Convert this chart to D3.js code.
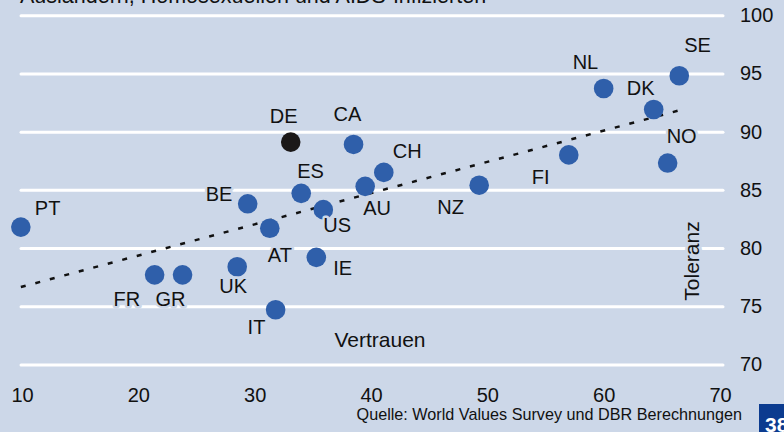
<!doctype html>
<html>

<head>
    <meta charset="UTF-8">
    <title>Vertrauen und Toleranz</title>
    <script src="https://cdn.jsdelivr.net/npm/d3@7"></script>
    <style>
        body { margin: 0; background: #ccd7e8; }
        svg { display: block; font-family: "Liberation Sans", Arial, sans-serif; }
    </style>
</head>

<body>
    <script>
        // Länder, Vertrauen (x) und Toleranz (y)
        var countries = ["PT", "FR", "GR", "UK", "BE", "AT", "IT", "DE", "ES", "IE", "US", "CA", "AU", "CH", "NZ", "FI", "NL", "DK", "NO", "SE"];
        var trust = [9.9, 21.4, 23.8, 28.5, 29.4, 31.3, 31.8, 33.1, 34.0, 35.3, 35.9, 38.5, 39.5, 41.1, 49.3, 57.0, 60.0, 64.3, 65.5, 66.5];
        var tolerance = [81.8, 77.7, 77.7, 78.4, 83.8, 81.7, 74.7, 89.1, 84.7, 79.2, 83.3, 88.9, 85.3, 86.5, 85.4, 88.0, 93.7, 91.9, 87.3, 94.8];
        var highlight = "DE";

        // Trendlinie (Anfang und Ende)
        var trendX = [9.9, 66.4];
        var trendY = [76.65, 91.8];

        var xTicks = [10, 20, 30, 40, 50, 60, 70];
        var yTicks = [70, 75, 80, 85, 90, 95, 100];

        // Beschriftungs-Versatz relativ zum Punkt
        var labelOffset = {
            PT: [14, -12], FR: [-41, 31], GR: [-27, 31], UK: [-18, 26], BE: [-42, -3],
            AT: [-2, 34], IT: [-28, 24], DE: [-21, -19], ES: [-4, -15], IE: [17, 18],
            US: [0, 22], CA: [-20, -23], AU: [-2, 29], CH: [9, -14], NZ: [-42, 29],
            FI: [-37, 29], NL: [-31, -20], DK: [-27, -15], NO: [-1, -20], SE: [5, -24]
        };

        var w = 784, h = 432;
        var bg = "#ccd7e8";

        var svg = d3.select("body").append("svg")
            .attr("width", w)
            .attr("height", h);

        svg.append("rect").attr("width", w).attr("height", h).attr("fill", bg);

        var x = d3.scaleLinear().domain([10, 70]).range([22, 720]);
        var y = d3.scaleLinear().domain([70, 100]).range([364.5, 15.2]);

        // Titel (oben abgeschnitten)
        svg.append("text")
            .attr("x", 20).attr("y", 2.5)
            .attr("font-size", 21.5)
            .attr("fill", "#111")
            .text("Ausländern, Homosexuellen und AIDS-Infizierten");

        // y-Achse rechts mit Gitterlinien
        var yAxis = svg.append("g")
            .attr("transform", "translate(723,0)")
            .call(d3.axisRight(y).tickValues(yTicks).tickSize(-702).tickPadding(17));
        yAxis.select(".domain").remove();
        yAxis.selectAll("line")
            .attr("stroke", "#fff")
            .attr("stroke-width", 3)
            .attr("stroke-linecap", "round");
        yAxis.selectAll("text")
            .attr("font-size", 20)
            .attr("font-family", "Liberation Sans, Arial, sans-serif")
            .attr("fill", "#111");

        // x-Achse unten
        var xAxis = svg.append("g")
            .attr("transform", "translate(0,380)")
            .call(d3.axisBottom(x).tickValues(xTicks).tickSize(0).tickPadding(8));
        xAxis.select(".domain").remove();
        xAxis.selectAll("text")
            .attr("font-size", 20)
            .attr("font-family", "Liberation Sans, Arial, sans-serif")
            .attr("fill", "#111");

        // Trendlinie
        svg.append("line")
            .attr("x1", x(trendX[0])).attr("y1", y(trendY[0]))
            .attr("x2", x(trendX[1])).attr("y2", y(trendY[1]))
            .attr("stroke", "#111")
            .attr("stroke-width", 2.5)
            .attr("stroke-dasharray", "5,10");

        var data = countries.map(function (c, i) {
            return { name: c, x: trust[i], y: tolerance[i] };
        });

        // Achsentitel
        svg.append("text")
            .attr("x", 380).attr("y", 347)
            .attr("text-anchor", "middle")
            .attr("font-size", 21)
            .attr("fill", "#111")
            .text("Vertrauen");

        svg.append("text")
            .attr("transform", "translate(699,261) rotate(-90)")
            .attr("text-anchor", "middle")
            .attr("font-size", 21)
            .attr("fill", "#111")
            .attr("stroke", bg)
            .attr("stroke-width", 6)
            .attr("paint-order", "stroke")
            .text("Toleranz");

        // Punkte
        svg.selectAll("circle")
            .data(data)
            .enter().append("circle")
            .attr("cx", function (d) { return x(d.x); })
            .attr("cy", function (d) { return y(d.y); })
            .attr("r", 9.8)
            .attr("fill", function (d) {
                return d.name == highlight ? "#1b1818" : "#2f5faa";
            });

        // Länderkürzel
        svg.selectAll("text.lab")
            .data(data)
            .enter().append("text")
            .attr("class", "lab")
            .attr("x", function (d) { return x(d.x) + labelOffset[d.name][0]; })
            .attr("y", function (d) { return y(d.y) + labelOffset[d.name][1]; })
            .attr("font-size", 20)
            .attr("fill", "#111")
            .attr("stroke", bg)
            .attr("stroke-width", 5)
            .attr("stroke-linejoin", "round")
            .attr("paint-order", "stroke")
            .text(function (d) { return d.name; });

        // Quelle
        svg.append("text")
            .attr("x", 742).attr("y", 420)
            .attr("text-anchor", "end")
            .attr("font-size", 16.2)
            .attr("fill", "#111")
            .text("Quelle: World Values Survey und DBR Berechnungen");

        // Seitenzahl
        svg.append("rect")
            .attr("x", 759).attr("y", 404)
            .attr("width", 30).attr("height", 30)
            .attr("fill", "#0b3b8f");
        svg.append("text")
            .attr("x", 765).attr("y", 432)
            .attr("font-size", 21)
            .attr("font-weight", "bold")
            .attr("fill", "#fff")
            .text("38");
    </script>

</body>

</html>
